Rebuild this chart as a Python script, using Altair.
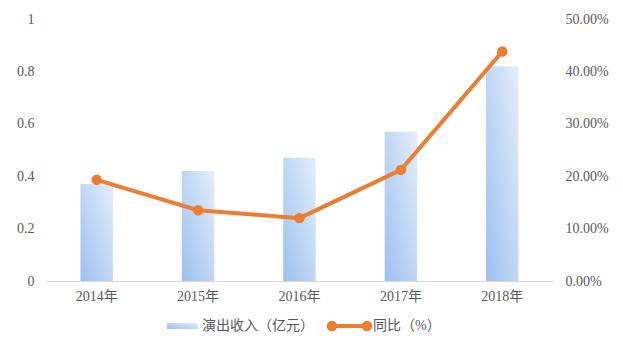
import altair as alt
import pandas as pd

years = ["2014年", "2015年", "2016年", "2017年", "2018年"]
revenue = [0.37, 0.42, 0.47, 0.57, 0.82]
growth = [0.193, 0.135, 0.12, 0.212, 0.438]
legend_labels = ["演出收入（亿元）", "同比（%）"]

df = pd.DataFrame({"year": years, "revenue": revenue, "growth": growth})

FONT = "Liberation Serif, Noto Sans CJK SC"
GRAY = "#595959"
ORANGE = "#ED7D31"
FS = 14

grad = alt.Gradient(
    gradient="linear",
    stops=[alt.GradientStop(color="#9cc0f0", offset=0),
           alt.GradientStop(color="#e4eefb", offset=1)],
    x1=0, x2=1, y1=1, y2=0,
)

base = alt.Chart(df)

xenc = alt.X("year:N", sort=years, title=None,
             scale=alt.Scale(paddingInner=0.68, paddingOuter=0.34),
             axis=alt.Axis(labelAngle=0, labelFont=FONT, labelFontSize=FS,
                           labelColor=GRAY, ticks=False, domainColor="#d9d9d9",
                           labelPadding=8))

bars = base.mark_bar(color=grad).encode(
    x=xenc,
    y=alt.Y("revenue:Q", title=None,
            scale=alt.Scale(domain=[0, 1]),
            axis=alt.Axis(values=[0, 0.2, 0.4, 0.6, 0.8, 1], labelFont=FONT,
                          labelFontSize=FS, labelColor=GRAY, grid=False,
                          ticks=False, domain=False, labelPadding=12,
                          labelExpr="datum.value == 0 ? '0' : datum.value == 1 ? '1' : format(datum.value, '.1f')")),
)

line = base.mark_line(color=ORANGE, strokeWidth=4).encode(
    x=xenc,
    y=alt.Y("growth:Q", title=None,
            scale=alt.Scale(domain=[0, 0.5]),
            axis=alt.Axis(orient="right", values=[0, 0.1, 0.2, 0.3, 0.4, 0.5],
                          format=".2%", labelFont=FONT, labelFontSize=FS,
                          labelColor=GRAY, grid=False, ticks=False, domain=False,
                          labelPadding=12)),
)
points = base.mark_circle(color=ORANGE, size=110, opacity=1).encode(
    x=xenc,
    y=alt.Y("growth:Q", scale=alt.Scale(domain=[0, 0.5])),
)

ldf = pd.DataFrame({"label": legend_labels})
leg_bar = alt.Chart(ldf).mark_rect(color=grad).encode(
    x=alt.value(121), x2=alt.value(152), y=alt.value(304), y2=alt.value(310))
leg_line = alt.Chart(ldf).mark_rule(color=ORANGE, strokeWidth=4).encode(
    x=alt.value(286), x2=alt.value(321), y=alt.value(307))
leg_pts = alt.Chart(pd.DataFrame({"px": [286, 321]})).mark_circle(
    color=ORANGE, size=110, opacity=1).encode(
    x=alt.X("px:Q", scale=None), y=alt.value(307))
leg_t1 = alt.Chart(pd.DataFrame({"t": [legend_labels[0]]})).mark_text(
    align="left", baseline="middle", font=FONT, fontSize=FS, color=GRAY).encode(
    x=alt.value(156), y=alt.value(307), text="t:N")
leg_t2 = alt.Chart(pd.DataFrame({"t": [legend_labels[1]]})).mark_text(
    align="left", baseline="middle", font=FONT, fontSize=FS, color=GRAY).encode(
    x=alt.value(327), y=alt.value(307), text="t:N")

chart = alt.layer(
    alt.layer(bars, alt.layer(line, points)).resolve_scale(y="independent"),
    leg_bar, leg_line, leg_pts, leg_t1, leg_t2,
).properties(
    width=507, height=262,
    background="white",
    autosize=alt.AutoSizeParams(type="none"),
    padding={"left": 46, "top": 19, "right": 70, "bottom": 62},
).configure_view(stroke=None)

chart.save("out.html", embed_options={"renderer": "svg", "actions": False})
